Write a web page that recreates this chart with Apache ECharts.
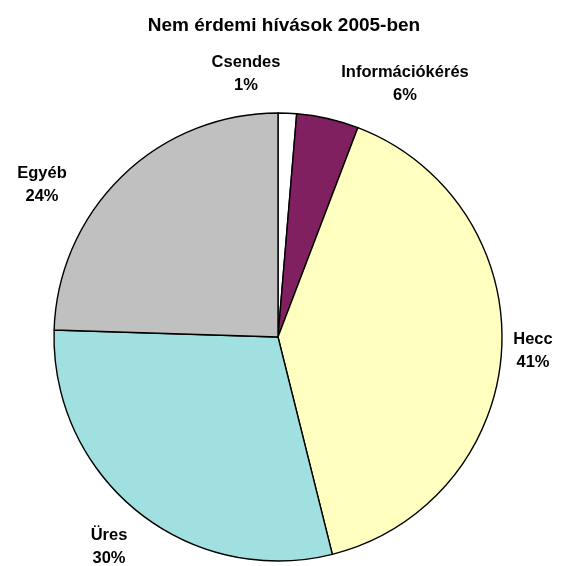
<!DOCTYPE html>
<html>
<head>
<meta charset="utf-8">
<script src="https://cdn.jsdelivr.net/npm/echarts@6/dist/echarts.min.js"></script>
<style>html,body{margin:0;padding:0;background:#fff}#c{width:562px;height:566px}</style>
</head>
<body>
<div id="c"></div>
<script>
const titleText = 'Nem érdemi hívások 2005-ben';
const categories = ['Csendes', 'Információkérés', 'Hecc', 'Üres', 'Egyéb'];
const values = [1.33, 4.47, 40.3, 29.4, 24.5];
const percentLabels = ['1%', '6%', '41%', '30%', '24%'];
const colors = ['#FFFFFF', '#802060', '#FFFFC0', '#A0E0E0', '#C0C0C0'];

const labelAnchors = [[246, 74], [405, 84], [533, 351], [109, 547], [42, 185]];

const chart = echarts.init(document.getElementById('c'), null, {renderer: 'canvas'});
chart.setOption({
  animation: false,
  backgroundColor: '#fff',
  title: {
    text: titleText,
    left: 279, top: 11, textAlign: 'center',
    textStyle: {fontFamily: 'Liberation Sans, Arial, sans-serif', fontWeight: 'bold', fontSize: 19, color: '#000'}
  },
  series: [{
    type: 'pie',
    center: [278, 337],
    radius: [0, 224],
    startAngle: 90,
    clockwise: true,
    silent: true,
    data: categories.map((c, i) => ({
      name: c, value: values[i],
      itemStyle: {color: colors[i]},
      label: {formatter: c + '\n' + percentLabels[i]}
    })),
    itemStyle: {borderColor: '#000', borderWidth: 1.4},
    label: {
      show: true, position: 'outside', overflow: 'none',
      fontFamily: 'Liberation Sans, Arial, sans-serif', fontWeight: 'bold', fontSize: 16.5,
      lineHeight: 23, color: '#000', align: 'center'
    },
    labelLine: {show: false},
    labelLayout: function (p) {
      const a = labelAnchors[p.dataIndex];
      return {x: a[0], y: a[1], align: 'center', verticalAlign: 'middle'};
    }
  }]
});
</script>
</body>
</html>
